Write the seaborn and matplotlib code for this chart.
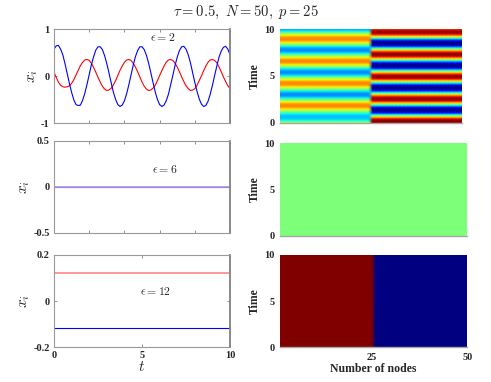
import matplotlib
matplotlib.use("Agg")
import matplotlib.pyplot as plt
import numpy as np
import seaborn as sns


# time samples used for the oscillating case (epsilon = 2)
t_osc = [0.0, 0.125, 0.25, 0.375, 0.5, 0.625, 0.75, 0.875, 1.0, 1.125, 1.25, 1.375,
         1.5, 1.625, 1.75, 1.875, 2.0, 2.125, 2.25, 2.375, 2.5, 2.625, 2.75, 2.875,
         3.0, 3.125, 3.25, 3.375, 3.5, 3.625, 3.75, 3.875, 4.0, 4.125, 4.25, 4.375,
         4.5, 4.625, 4.75, 4.875, 5.0, 5.125, 5.25, 5.375, 5.5, 5.625, 5.75, 5.875,
         6.0, 6.125, 6.25, 6.375, 6.5, 6.625, 6.75, 6.875, 7.0, 7.125, 7.25, 7.375,
         7.5, 7.625, 7.75, 7.875, 8.0, 8.125, 8.25, 8.375, 8.5, 8.625, 8.75, 8.875,
         9.0, 9.125, 9.25, 9.375, 9.5, 9.625, 9.75, 9.875, 10.0]
x_red_eps2 = [0.09, -0.02, -0.12, -0.19, -0.22, -0.23, -0.22, -0.20, -0.15, -0.07,
              0.03, 0.13, 0.23, 0.30, 0.35, 0.36, 0.34, 0.28, 0.19, 0.09, -0.02,
              -0.12, -0.21, -0.27, -0.30, -0.29, -0.25, -0.18, -0.09, 0.02, 0.13,
              0.22, 0.30, 0.35, 0.36, 0.34, 0.28, 0.20, 0.10, -0.01, -0.12, -0.21,
              -0.27, -0.30, -0.29, -0.25, -0.19, -0.09, 0.02, 0.12, 0.22, 0.30, 0.35,
              0.36, 0.34, 0.28, 0.20, 0.10, -0.01, -0.11, -0.20, -0.26, -0.30, -0.29,
              -0.26, -0.19, -0.09, 0.01, 0.12, 0.22, 0.30, 0.35, 0.36, 0.34, 0.29,
              0.20, 0.10, -0.01, -0.11, -0.20, -0.26]
x_blue_eps2 = [0.58, 0.65, 0.66, 0.58, 0.46, 0.27, 0.06, -0.15, -0.34, -0.50, -0.60,
               -0.62, -0.61, -0.51, -0.36, -0.17, 0.04, 0.25, 0.42, 0.56, 0.63, 0.63,
               0.57, 0.44, 0.27, 0.07, -0.14, -0.34, -0.49, -0.60, -0.64, -0.61, -0.52,
               -0.37, -0.18, 0.03, 0.24, 0.42, 0.55, 0.63, 0.63, 0.57, 0.45, 0.28,
               0.08, -0.13, -0.33, -0.49, -0.60, -0.64, -0.61, -0.52, -0.38, -0.18,
               0.02, 0.23, 0.41, 0.55, 0.63, 0.64, 0.58, 0.46, 0.29, 0.08, -0.13,
               -0.32, -0.48, -0.59, -0.64, -0.62, -0.53, -0.38, -0.19, 0.02, 0.22,
               0.41, 0.54, 0.62, 0.64, 0.58, 0.46]

# steady cases: start and end of the time window
t_steady = [0.0, 10.0]
x_red_eps6 = [0.0, 0.0]
x_blue_eps6 = [0.0, 0.0]
x_red_eps12 = [0.12, 0.12]
x_blue_eps12 = [-0.115, -0.115]

epsilons = [2, 6, 12]
n_nodes = 50
p_split = 25
nodes = list(range(1, n_nodes + 1))

left_ylims = [(-1, 1), (-0.5, 0.5), (-0.2, 0.2)]
left_yticks = [[-1, 0, 1], [-0.5, 0, 0.5], [-0.2, 0, 0.2]]
left_yticklabels = [["-1", "0", "1"], ["-0.5", "0", "0.5"], ["-0.2", "0", "0.2"]]
eps_label_pos = [(6.2, 0.82), (6.3, 0.18), (5.8, 0.04)]

sns.set_theme(style="white")
plt.rcParams["font.family"] = ["Liberation Serif", "DejaVu Serif"]
plt.rcParams["mathtext.fontset"] = "cm"

fig = plt.figure(figsize=(4.91, 3.82), dpi=100)

left_rects = [
    [0.110, 0.677, 0.3585, 0.246],
    [0.110, 0.391, 0.3585, 0.241],
    [0.110, 0.091, 0.3585, 0.2416],
]
right_rects = [
    [0.570, 0.679, 0.370, 0.245],
    [0.570, 0.383, 0.382, 0.242],
    [0.570, 0.091, 0.382, 0.2416],
]

cases = [
    (t_osc, x_red_eps2, x_blue_eps2),
    (t_steady, x_red_eps6, x_blue_eps6),
    (t_steady, x_red_eps12, x_blue_eps12),
]

tick_font = dict(fontweight="bold", fontsize=7.5)

for row, (t_vals, red_vals, blue_vals) in enumerate(cases):
    ax = fig.add_axes(left_rects[row])
    sns.lineplot(x=t_vals, y=red_vals, color="red", linewidth=0.8, ax=ax)
    sns.lineplot(x=t_vals, y=blue_vals, color="blue", linewidth=0.8, ax=ax)
    if row == 1:
        ax.lines[-1].set_color("#9999ff")
        ax.lines[-1].set_linewidth(1.2)
    if row == 2:
        ax.lines[0].set_color("#ff8888")
        ax.lines[0].set_linewidth(1.2)
    ax.set_xlim(0, 10)
    ax.set_ylim(*left_ylims[row])
    ax.set_yticks(left_yticks[row])
    ax.set_yticklabels(left_yticklabels[row], **tick_font)
    if row == 2:
        ax.set_xticks([0, 5, 10])
        ax.set_xticklabels(["0", "5", "10"], **tick_font)
        ax.set_xlabel(r"$t$", fontsize=11, labelpad=0)
    else:
        ax.set_xticks([0, 2, 4, 6, 8, 10])
        ax.set_xticklabels([])
    ax.tick_params(direction="in", length=2, width=0.5, color="0.4",
                   top=True, right=True, bottom=True, left=True, pad=3)
    ax.set_ylabel(r"$x_i$", fontsize=11, labelpad=1)
    for side, spine in ax.spines.items():
        spine.set_color("0.6")
        spine.set_linewidth(0.8)
    ax.spines["right"].set_color("0.5")
    ax.spines["right"].set_linewidth(1.3)
    ex, ey = eps_label_pos[row]
    ax.text(ex, ey, r"$\epsilon = \mathbf{%d}$" % epsilons[row], fontsize=8.5,
            ha="center", va="center")

    # space-time map: nodes 1..p follow the red series, the rest the blue one
    field = np.array([[red_vals[i] if n <= p_split else blue_vals[i] for n in nodes]
                      for i in range(len(t_vals))])
    vmin, vmax = field.min(), field.max()
    if vmin == vmax:
        vmin, vmax = vmin - 1, vmax + 1
    hx = fig.add_axes(right_rects[row])
    hx.pcolormesh(nodes, t_vals, field, cmap="jet", vmin=vmin, vmax=vmax,
                  shading="gouraud")
    hx.set_xlim(1, n_nodes)
    hx.set_ylim(0, 10)
    hx.set_yticks([0, 5, 10])
    hx.set_yticklabels(["0", "5", "10"], **tick_font)
    if row == 2:
        hx.set_xticks([25, 50])
        hx.set_xticklabels(["25", "50"], **tick_font)
        hx.set_xlabel("Number of nodes", fontweight="bold", fontsize=8.5, labelpad=1)
    else:
        hx.set_xticks([])
    hx.tick_params(length=0, pad=4)
    hx.set_ylabel("Time", fontweight="bold", fontsize=8.5, labelpad=2)
    for side, spine in hx.spines.items():
        spine.set_visible(side == "bottom")
    hx.spines["bottom"].set_color("0.65")
    hx.spines["bottom"].set_linewidth(1.0)

fig.text(0.5, 1 - 12 / 382, r"$\tau=0.5,\ N=50,\ p=25$", ha="center", va="center",
         fontsize=10.5)

fig.savefig("out.png", dpi=100, facecolor="white")
